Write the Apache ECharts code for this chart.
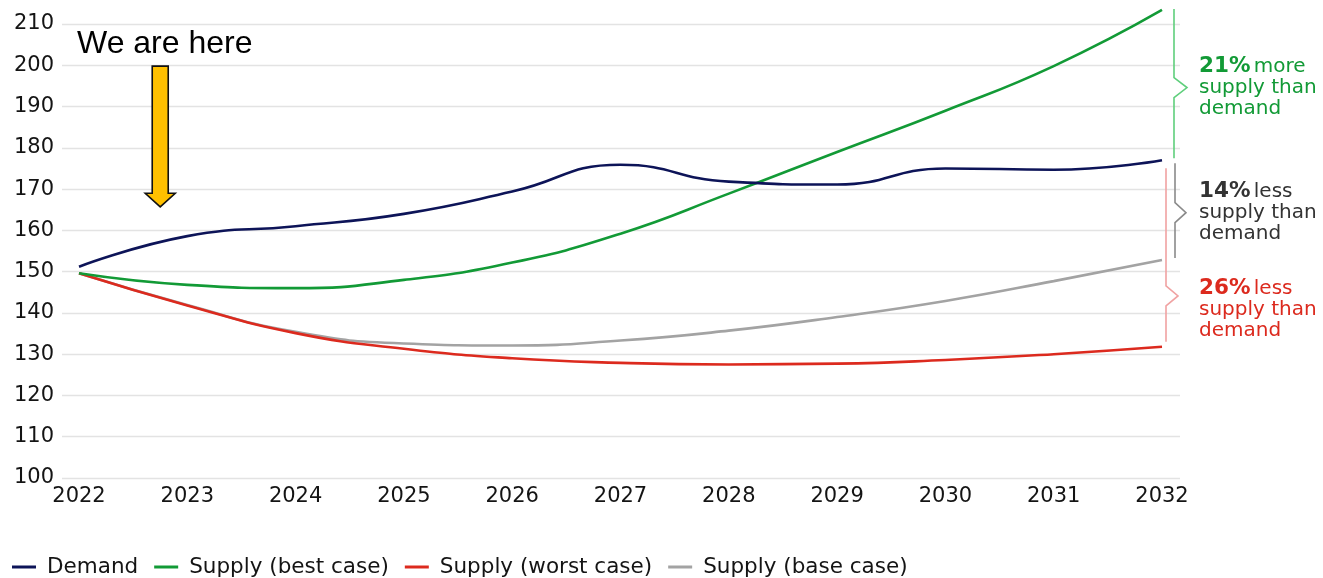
<!DOCTYPE html>
<html>
<head>
<meta charset="utf-8">
<script src="https://cdn.jsdelivr.net/npm/echarts@6/dist/echarts.min.js"></script>
<style>
html,body{margin:0;padding:0;background:#fff;}
#chart{width:1323px;height:578px;}
</style>
</head>
<body>
<div id="chart"></div>
<script>
const years = ['2022','2023','2024','2025','2026','2027','2028','2029','2030','2031','2032'];
const demand = [151.2, 158.6, 161.0, 164.0, 169.4, 175.9, 171.8, 171.1, 175.0, 174.7, 177.0];
const supplyBest = [149.6, 146.8, 146.0, 148.0, 152.2, 159.2, 168.9, 179.0, 189.0, 199.8, 213.4];
const supplyWorst = [149.6, 141.8, 135.1, 131.3, 129.0, 127.9, 127.5, 127.7, 128.6, 130.0, 131.8];
const supplyBase = [149.6, 141.9, 135.4, 132.6, 132.1, 133.3, 135.7, 139.0, 142.9, 147.7, 152.8];
const yTicks = {min: 100, max: 210, interval: 10};

const FONT = 'DejaVu Sans';
const C_DEMAND = '#0d1458', C_BEST = '#129a36', C_WORST = '#dc2a1e', C_BASE = '#a3a3a3';

const chart = echarts.init(document.getElementById('chart'), null, {renderer: 'canvas'});

const option = {
  animation: false,
  backgroundColor: '#ffffff',
  grid: [
    {left: 62, right: 143, top: 24, bottom: 100},
    {left: 79, right: 161, top: 24, bottom: 100}
  ],
  xAxis: [
    {gridIndex: 0, type: 'category', data: years, show: false},
    {
      gridIndex: 1, type: 'category', data: years, boundaryGap: false,
      axisLine: {show: false}, axisTick: {show: false},
      axisLabel: {color: '#141414', fontFamily: FONT, fontSize: 21, margin: 8}
    }
  ],
  yAxis: [
    {
      gridIndex: 0, type: 'value', min: yTicks.min, max: yTicks.max, interval: yTicks.interval,
      axisLine: {show: false}, axisTick: {show: false},
      axisLabel: {color: '#141414', fontFamily: FONT, fontSize: 21, margin: 8},
      splitLine: {lineStyle: {color: '#e3e3e3', width: 1.3}}
    },
    {
      gridIndex: 1, type: 'value', min: yTicks.min, max: yTicks.max, interval: yTicks.interval,
      show: false, splitLine: {show: false}
    }
  ],
  legend: {
    left: 7, bottom: -5,
    itemWidth: 24, itemHeight: 3, itemGap: 16,
    icon: 'rect',
    textStyle: {fontFamily: FONT, fontSize: 21.5, color: '#141414', padding: [0, 0, 0, 6]},
    data: ['Demand', 'Supply (best case)', 'Supply (worst case)', 'Supply (base case)']
  },
  series: [
    {name: 'Supply (base case)', type: 'line', xAxisIndex: 1, yAxisIndex: 1, data: supplyBase, smooth: 0.5, clip: false, symbol: 'none', lineStyle: {color: C_BASE, width: 2.6}, itemStyle: {color: C_BASE}, z: 2},
    {name: 'Supply (worst case)', type: 'line', xAxisIndex: 1, yAxisIndex: 1, data: supplyWorst, smooth: 0.5, clip: false, symbol: 'none', lineStyle: {color: C_WORST, width: 2.6}, itemStyle: {color: C_WORST}, z: 3},
    {name: 'Supply (best case)', type: 'line', xAxisIndex: 1, yAxisIndex: 1, data: supplyBest, smooth: 0.5, clip: false, symbol: 'none', lineStyle: {color: C_BEST, width: 2.6}, itemStyle: {color: C_BEST}, z: 4},
    {name: 'Demand', type: 'line', xAxisIndex: 1, yAxisIndex: 1, data: demand, smooth: 0.5, clip: false, symbol: 'none', lineStyle: {color: C_DEMAND, width: 2.6}, itemStyle: {color: C_DEMAND}, z: 5}
  ]
};
chart.setOption(option);

// Annotations positioned through the chart's own scales
function px(cat, val) { return chart.convertToPixel({xAxisIndex: 1, yAxisIndex: 1}, [cat, val]); }
const p22 = px('2022', 100), p23 = px('2023', 100), p32 = px('2032', 100);
const yOf = v => px('2022', v)[1];
const last = years.length - 1;

function bracket(x, yTop, yBot, yTip, dx, color) {
  return {
    type: 'polyline', silent: true, z: 10,
    shape: {points: [[x, yTop], [x, yTip - 10], [x + dx, yTip], [x, yTip + 10], [x, yBot]]},
    style: {stroke: color, lineWidth: 1.6, fill: null}
  };
}
function label(x, yMid, pct, word, color, textColor) {
  return {
    type: 'text', silent: true, z: 10, x: x, y: yMid,
    style: {
      text: '{b|' + pct + '} {n|' + word + '}\n{n|supply than}\n{n|demand}',
      fill: textColor, verticalAlign: 'middle', align: 'left',
      rich: {
        b: {fontFamily: FONT, fontSize: 21.5, fontWeight: 'bold', fill: color, lineHeight: 21},
        n: {fontFamily: FONT, fontSize: 20, fill: textColor, lineHeight: 21}
      }
    }
  };
}

const xArrow = p22[0] + 0.75 * (p23[0] - p22[0]);
const yTopArrow = yOf(199.8), yHead = yOf(169.0), yTipA = yOf(165.7);

const gTop = yOf(supplyBest[last]) - 1, gBot = yOf(demand[last]) - 2;
const grTop = yOf(demand[last]) + 3, grBot = yOf(supplyBase[last]) - 2;
const rTop = yOf(demand[last]) + 8, rBot = yOf(supplyWorst[last]) - 5;

chart.setOption({
  graphic: [
    {
      type: 'text', silent: true, z: 10, x: p22[0] - 2, y: yOf(205),
      style: {text: 'We are here', fontFamily: 'Liberation Sans', fontSize: 32, fill: '#000', verticalAlign: 'middle'}
    },
    {
      type: 'polygon', silent: true, z: 10,
      shape: {points: [
        [xArrow - 8, yTopArrow], [xArrow + 8, yTopArrow], [xArrow + 8, yHead],
        [xArrow + 15, yHead], [xArrow, yTipA], [xArrow - 15, yHead], [xArrow - 8, yHead]
      ]},
      style: {fill: '#ffc000', stroke: '#111', lineWidth: 1.6}
    },
    bracket(p32[0] + 12, gTop, gBot, (gTop + gBot) / 2 + 4, 13, '#5fcf7c'),
    bracket(p32[0] + 13, grTop, grBot, (grTop + grBot) / 2 + 2, 11, '#8a8a8a'),
    bracket(p32[0] + 4, rTop, rBot, (rTop + rBot) / 2 + 41, 12, '#f0a2a2'),
    label(p32[0] + 37, (gTop + gBot) / 2 + 4, '21%', 'more', C_BEST, C_BEST),
    label(p32[0] + 37, (grTop + grBot) / 2 + 2, '14%', 'less', '#333333', '#333333'),
    label(p32[0] + 37, yOf(140.8), '26%', 'less', C_WORST, C_WORST)
  ]
});
</script>
</body>
</html>
